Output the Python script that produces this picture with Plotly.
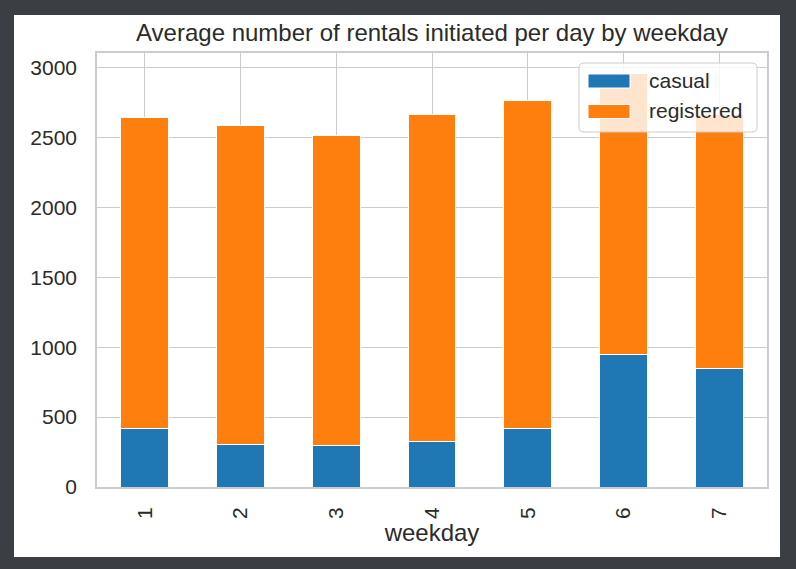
import plotly.graph_objects as go

weekdays = ["1", "2", "3", "4", "5", "6", "7"]
casual = [417, 307, 294, 322, 420, 951, 851]
registered = [2225, 2278, 2219, 2346, 2348, 2007, 1814]
series_names = ["casual", "registered"]
series_colors = ["#1f77b4", "#ff7f0e"]

W, H = 796, 569
L, R, T, B = 97, 767, 53, 487
pw, ph = R - L, B - T

def px_x(x):
    return (x - L) / pw

def px_y(y):
    return (B - y) / ph

FONT = "Liberation Sans, Arial, sans-serif"
TXT = "#2b2b2b"
GRID = "#cccccc"

fig = go.Figure()
for name, vals, col in zip(series_names, [casual, registered], series_colors):
    fig.add_trace(go.Bar(x=weekdays, y=vals, name=name, width=0.5,
                         marker=dict(color=col, line=dict(color="white", width=1))))

# legend box (matplotlib-style: rounded, translucent, wide swatches)
lx0, lx1, ly0, ly1, rr = 579, 757, 63, 132, 5
X0, X1 = px_x(lx0), px_x(lx1)
Y0, Y1 = px_y(ly1), px_y(ly0)
rx, ry = rr / pw, rr / ph
box_path = (f"M{X0+rx},{Y1} L{X1-rx},{Y1} Q{X1},{Y1} {X1},{Y1-ry} "
            f"L{X1},{Y0+ry} Q{X1},{Y0} {X1-rx},{Y0} L{X0+rx},{Y0} "
            f"Q{X0},{Y0} {X0},{Y0+ry} L{X0},{Y1-ry} Q{X0},{Y1} {X0+rx},{Y1} Z")

shapes = [
    dict(type="rect", xref="paper", yref="paper",
         x0=px_x(14), x1=px_x(780), y0=px_y(557), y1=px_y(15),
         fillcolor="white", line=dict(width=0), layer="below"),
    dict(type="path", xref="paper", yref="paper", path=box_path,
         fillcolor="rgba(255,255,255,0.8)", line=dict(color=GRID, width=1),
         layer="above"),
]
annotations = []
for i, (name, col) in enumerate(zip(series_names, series_colors)):
    yc = 81 + i * 30.5
    shapes.append(dict(type="rect", xref="paper", yref="paper",
                       x0=px_x(588), x1=px_x(630), y0=px_y(yc + 7), y1=px_y(yc - 7),
                       fillcolor=col, line=dict(color="white", width=1), layer="above"))
    annotations.append(dict(text=name, xref="paper", yref="paper",
                            x=px_x(647), y=px_y(yc - 1), xanchor="left", yanchor="middle",
                            showarrow=False, font=dict(size=21, color=TXT, family=FONT)))

fig.update_layout(
    width=W, height=H,
    barmode="stack",
    paper_bgcolor="#3b3e42",
    plot_bgcolor="white",
    margin=dict(l=L, r=W - R, t=T, b=H - B, pad=0),
    font=dict(family=FONT, color=TXT, size=21),
    title=dict(text="Average number of rentals initiated per day by weekday",
               x=(L + R) / 2 / W, xanchor="center", y=1 - 33 / H, yanchor="middle",
               font=dict(size=24, color=TXT)),
    showlegend=False,
    shapes=shapes,
    annotations=annotations,
)
fig.update_xaxes(type="category", categoryorder="array", categoryarray=weekdays,
                 range=[-0.5, 6.5], tickangle=-90, showgrid=True, gridcolor=GRID,
                 gridwidth=1.3, showline=True, linecolor=GRID, linewidth=1.6, mirror=True,
                 ticks="", tickfont=dict(size=21, color=TXT), ticklabelstandoff=10,
                 title=dict(text="weekday", font=dict(size=24, color=TXT), standoff=4))
fig.update_yaxes(range=[0, 3105], tickvals=[0, 500, 1000, 1500, 2000, 2500, 3000],
                 showgrid=True, gridcolor=GRID, gridwidth=1.3, showline=True,
                 linecolor=GRID, linewidth=1.6, mirror=True, ticks="", zeroline=False,
                 tickfont=dict(size=21, color=TXT), ticklabelstandoff=14)

fig.write_html("out.html", config={"displayModeBar": False},
               post_script="document.body.style.margin='0px';")
